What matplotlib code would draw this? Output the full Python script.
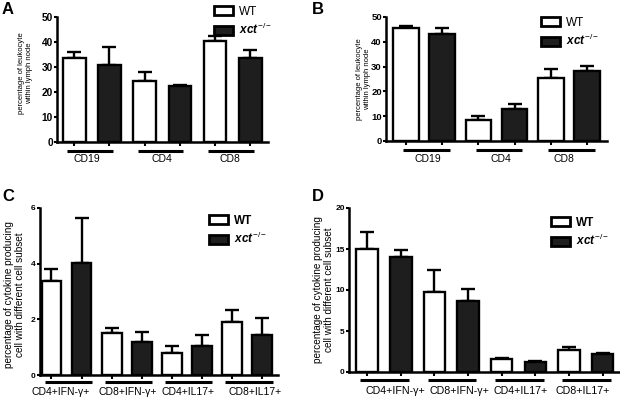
import numpy as np
import matplotlib
matplotlib.use("Agg")
import matplotlib.pyplot as plt
import matplotlib.patches as mpatches

plt.rcParams["font.family"] = ["Liberation Sans", "DejaVu Sans"]
plt.rcParams["mathtext.fontset"] = "custom"
plt.rcParams["mathtext.it"] = "Liberation Sans:italic:bold"
plt.rcParams["mathtext.rm"] = "Liberation Sans"

# ---------- data ----------
groups_ab = ["CD19", "CD4", "CD8"]
a_wt = [33.5, 24.5, 40.3]
a_wt_err = [2.5, 3.5, 2.2]
a_ko = [31.0, 22.3, 33.7]
a_ko_err = [7.0, 0.7, 3.3]

b_wt = [45.5, 8.5, 25.3]
b_wt_err = [1.0, 1.5, 3.7]
b_ko = [43.0, 13.0, 28.3]
b_ko_err = [2.7, 2.0, 2.0]

groups_cd = ["CD4+IFN-γ+", "CD8+IFN-γ+", "CD4+IL17+", "CD8+IL17+"]
c_wt = [3.37, 1.50, 0.80, 1.90]
c_wt_err = [0.43, 0.18, 0.23, 0.45]
c_ko = [4.02, 1.18, 1.05, 1.45]
c_ko_err = [1.63, 0.37, 0.40, 0.58]

d_wt = [15.0, 9.7, 1.6, 2.7]
d_wt_err = [2.1, 2.7, 0.1, 0.3]
d_ko = [14.0, 8.7, 1.25, 2.2]
d_ko_err = [0.9, 1.4, 0.15, 0.15]

W, H = 620, 400
fig = plt.figure(figsize=(6.2, 4.0), dpi=100)


def px_axes(left, right, top, bottom):
    return fig.add_axes([left / W, 1 - bottom / H, (right - left) / W, (bottom - top) / H])


def panel(ax, groups, wt, wt_err, ko, ko_err, ymax, yticks, ylabel, xpad, bw,
          ylab_xy, ylab_fs, tick_fs, grp_fs, line_ext, txt_shift, line_off, text_off,
          leg_xy, bold_leg, ax_h):
    n = len(groups)
    x = np.arange(2 * n)
    vals = np.ravel(np.column_stack([wt, ko]))
    errs = np.ravel(np.column_stack([wt_err, ko_err]))
    colors = ["white", "#1e1e1e"] * n
    ax.bar(x, vals, width=bw, color=colors, edgecolor="black", linewidth=1.7, zorder=2)
    ax.errorbar(x, vals, yerr=[np.zeros_like(errs), errs], fmt="none", ecolor="black",
                elinewidth=1.7, capsize=5, capthick=1.7, zorder=1)
    ax.set_xlim(-xpad[0], 2 * n - 1 + xpad[1])
    ax.set_ylim(0, ymax)
    ax.set_yticks(yticks)
    ax.set_xticks(x)
    ax.set_xticklabels([])
    for s in ["top", "right"]:
        ax.spines[s].set_visible(False)
    ax.spines["left"].set_linewidth(1.8)
    ax.spines["bottom"].set_linewidth(1.8)
    ax.tick_params(axis="x", direction="out", length=3, width=1.5)
    ax.tick_params(axis="y", direction="out", length=2.5, width=1.5, pad=0.5)
    for t in ax.get_yticklabels():
        t.set_fontweight("bold")
        t.set_fontsize(tick_fs)
    ax.set_ylabel(ylabel, fontsize=ylab_fs, linespacing=1.15)
    ax.yaxis.set_label_coords(*ylab_xy)
    tr = ax.get_xaxis_transform()
    for i, g in enumerate(groups):
        x0, x1 = 2 * i, 2 * i + 1
        ax.plot([x0 - line_ext[0], x1 + line_ext[1]], [-line_off / ax_h] * 2, color="black",
                lw=2.2, transform=tr, clip_on=False, solid_capstyle="butt")
        ax.text((x0 + x1) / 2 + txt_shift[i], -text_off / ax_h, g, transform=tr,
                ha="center", va="center", fontsize=grp_fs)
    handles = [mpatches.Patch(facecolor="white", edgecolor="black", linewidth=2),
               mpatches.Patch(facecolor="#1e1e1e", edgecolor="black", linewidth=2)]
    labels = ["WT", r"$\mathit{xct}^{-/-}$"]
    leg = ax.legend(handles, labels, loc="upper left",
                    bbox_to_anchor=(leg_xy[0] / W, 1 - leg_xy[1] / H),
                    bbox_transform=fig.transFigure, frameon=False, fontsize=8.5,
                    handlelength=1.6, handleheight=0.8, handletextpad=0.5,
                    labelspacing=0.35, borderpad=0, borderaxespad=0)
    if bold_leg:
        leg.get_texts()[0].set_fontweight("bold")


# A
axA = px_axes(57, 268, 17, 142)
panel(axA, groups_ab, a_wt, a_wt_err, a_ko, a_ko_err, 50, range(0, 51, 10),
      "percentage of leukocyte\nwithin lymph node", (0.49, 0.5), 0.64, (-0.114, 0.55),
      5.5, 7.3, 7.5, (0.2, 0.1), [-0.14, 0.0, -0.07], 9, 17, (214, 6), False, 125)
# B
axB = px_axes(386, 607, 17, 141)
panel(axB, groups_ab, b_wt, b_wt_err, b_ko, b_ko_err, 50, range(0, 51, 10),
      "percentage of leukocyte\nwithin lymph node", (0.55, 0.55), 0.7, (-0.068, 0.5),
      5.5, 6.8, 7.5, (0.07, 0.21), [0.1, 0.12, -0.14], 9, 18, (541, 17), False, 124)
# C
axC = px_axes(40, 278, 208, 375)
panel(axC, groups_cd, c_wt, c_wt_err, c_ko, c_ko_err, 6, range(0, 7, 2),
      "percentage of cytokine producing\ncell with different cell subset", (0.38, 0.53), 0.66,
      (-0.063, 0.48), 7.2, 6, 7.5, (0.22, 0.35), [-0.2, 0.05, 0.05, 0.27], 7, 17,
      (209, 215), True, 167)
# D
axD = px_axes(349, 620, 208, 372)
panel(axD, groups_cd, d_wt, d_wt_err, d_ko, d_ko_err, 20, range(0, 21, 5),
      "percentage of cytokine producing\ncell with different cell subset", (0.54, 0.52), 0.64,
      (-0.056, 0.5), 7.2, 6, 7.7, (0.2, 0.25), [0.35, 0.25, 0.05, -0.1], 8, 19,
      (551, 217), True, 164)

for lab, (x, y) in zip("ABCD", [(2, 10), (312, 10), (2, 197), (312, 197)]):
    fig.text(x / W, 1 - y / H, lab, fontsize=12, fontweight="bold", va="center", ha="left")

fig.savefig("out.png", dpi=100)
